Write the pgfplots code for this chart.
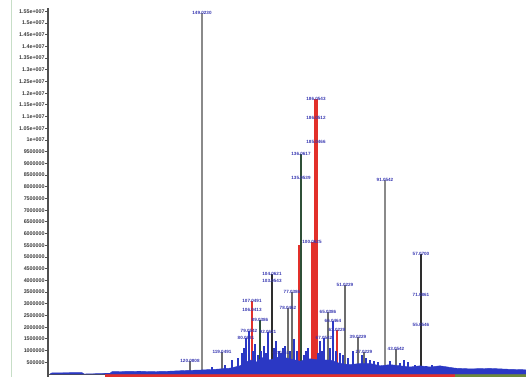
\documentclass[border=0pt]{standalone}
\usepackage{fontspec}
\setmainfont{Liberation Sans}
\usepackage{pgfplots}
\pgfplotsset{compat=1.18}
\definecolor{stkgray}{HTML}{8A8A8A}
\definecolor{stkdark}{HTML}{2E2E2E}
\definecolor{stkgreen}{HTML}{2F5038}
\definecolor{stkred}{HTML}{E2302A}
\definecolor{bandblue}{HTML}{2B38C4}
\definecolor{lblue}{HTML}{3535B0}
\definecolor{axisgray}{HTML}{505050}
\definecolor{labgray}{HTML}{3A3A3A}
\definecolor{stripgreen}{HTML}{6E8A3A}
\begin{document}
\begin{tikzpicture}
\draw[draw=green!25!gray!35, line width=0.8bp] (-37bp,0bp) -- (-37bp,377bp);
\begin{axis}[
  at={(0,0)}, anchor=south west,
  scale only axis, width=478bp, height=369bp,
  xmin=48, xmax=526, ymin=-1.28e5, ymax=1.5641e7,
  axis y line=left, axis x line=none,
  xtick=\empty, scaled y ticks=false, scaled x ticks=false,
  axis line style={-, draw=axisgray, line width=1.3bp},
  ytick={0.5e6,1e6,1.5e6,2e6,2.5e6,3e6,3.5e6,4e6,4.5e6,5e6,5.5e6,6e6,6.5e6,7e6,7.5e6,8e6,8.5e6,9e6,9.5e6,10e6,10.5e6,11e6,11.5e6,12e6,12.5e6,13e6,13.5e6,14e6,14.5e6,15e6,15.5e6},
  yticklabels={500000,1000000,1500000,2000000,2500000,3000000,3500000,4000000,4500000,5000000,5500000,6000000,6500000,7000000,7500000,8000000,8500000,9000000,9500000,1e+007,1.05e+007,1.1e+007,1.15e+007,1.2e+007,1.25e+007,1.3e+007,1.35e+007,1.4e+007,1.45e+007,1.5e+007,1.55e+007},
  yticklabel style={font=\fontsize{5.4}{6}\selectfont\bfseries, text=labgray, inner sep=0.6bp},
  tick style={draw=axisgray, line width=0.9bp},
  major tick length=2.5bp, tick align=outside,
  clip=false,
  sticks/.style={ycomb, no markers, nodes near coords, point meta=explicit symbolic,
    every node near coord/.style={anchor=center, font=\fontsize{4.6}{5}\selectfont\bfseries, text=lblue, inner sep=0pt}},
  bare/.style={ycomb, no markers},
]
% bottom strips
\addplot[fill=stkred, draw=none] coordinates {(105,-1.28e5) (455,-1.28e5) (455,0) (105,0)} -- cycle;
\addplot[fill=stripgreen, draw=none] coordinates {(455,-1.28e5) (526,-1.28e5) (526,0) (455,0)} -- cycle;
\addplot[draw=axisgray, line width=0.8bp] coordinates {(48,0) (105,0)};
% tall sticks
\addplot[sticks, draw=stkgray, line width=1.8bp] coordinates {(202,15.43e6)[149.0230] (385,8.29e6)[91.0542]};
\addplot[bare, draw=stkred, line width=3bp] coordinates {(299,5.5e6)};
\addplot[sticks, draw=stkred, line width=3bp] coordinates {(312,5.64e6)[100.0625]};
\addplot[sticks, draw=stkred, line width=4bp] coordinates {(316,11.75e6)[186.0543] (316,10.94e6)[186.0512] (316,9.91e6)[185.0466]};
\addplot[sticks, draw=stkgreen, line width=1.6bp] coordinates {(301,9.4e6)[136.0617] (301,8.38e6)[135.0539] (260,2.3e6)[89.0386]};
\addplot[sticks, draw=stkdark, line width=1.9bp] coordinates {(421,5.13e6)[57.0700] (421,3.38e6)[71.0861] (421,2.09e6)[55.0546] (272,4.27e6)[104.0621] (272,3.97e6)[103.0543]};
\addplot[sticks, draw=stkdark!70, line width=1.4bp] coordinates {(292,3.5e6)[77.0386] (288,2.82e6)[78.0462] (345,3.8e6)[51.0229] (328,2.65e6)[65.0386] (358,1.58e6)[39.0229] (396,1.07e6)[43.0542] (364,0.94e6)[27.0229] (222,0.94e6)[119.0491] (190,0.55e6)[120.0808]};
\addplot[sticks, draw=stkred, line width=2bp] coordinates {(252,3.12e6)[107.0491] (252,2.73e6)[106.0413] (337,1.88e6)[63.0229]};
% blue clutter
\addplot[sticks, draw=bandblue, line width=1.3bp] coordinates {
(246,1.54e6)[80.0621] (249,1.85e6)[79.0542] (268,1.8e6)[92.0621] (281,0.9e6)[62.0151] (324,1.55e6)[67.0542] (333,2.25e6)[66.0464]};
\addplot[bare, draw=bandblue, line width=1.3bp] coordinates {
(212,0.3e6) (225,0.4e6) (232,0.6e6) (238,0.7e6) (242,0.9e6) (244,1.1e6)
(253,1.0e6) (255,1.3e6) (258,0.8e6) (261,1.0e6) (264,1.2e6) (266,0.9e6) (274,1.1e6) (276,1.4e6)
(279,1.0e6) (283,1.1e6) (285,1.2e6)
(290,1.0e6) (294,1.5e6) (297,1.0e6) (304,0.8e6) (306,1.0e6) (308,1.1e6) (318,0.9e6) (320,1.4e6) (322,1.0e6)
(330,1.1e6) (336,1.0e6)
(340,0.9e6) (343,0.8e6) (348,0.7e6) (353,1.0e6) (362,0.8e6) (366,0.7e6) (370,0.6e6) (374,0.55e6) (378,0.5e6) (390,0.55e6) (400,0.45e6)
(404,0.6e6) (408,0.5e6) (415,0.4e6) (426,0.35e6) (432,0.4e6) (440,0.3e6)};
\addplot[fill=bandblue, draw=bandblue] coordinates {
(50,0) (52,0.5e5) (82,0.6e5) (84,0) (110,0.3e5) (112,1.0e5) (140,1.2e5) (150,1.0e5) (170,1.2e5) (185,1.5e5)
(200,1.7e5) (215,2.0e5) (230,2.5e5) (240,3.5e5) (250,6e5) (256,5e5) (262,7e5) (270,6e5) (280,7.5e5)
(290,6.5e5) (300,5.5e5) (310,6.5e5) (320,6e5) (330,6e5) (340,4.5e5) (350,4e5) (360,4.5e5) (370,4.5e5)
(380,3.5e5) (390,4e5) (400,3.5e5) (410,3e5) (420,3.5e5) (430,3e5) (440,3.5e5) (455,2.5e5) (470,2.2e5)
(490,2.4e5) (510,2e5) (526,1.8e5)} \closedcycle;
\end{axis}
\pgfresetboundingbox
\path (-48bp,0bp) rectangle (478bp,377bp);
\end{tikzpicture}
\end{document}
